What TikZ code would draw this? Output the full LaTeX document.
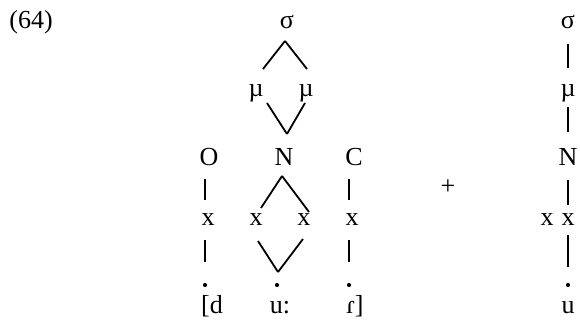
\documentclass[tikz,border=0pt]{standalone}
\usepackage{fontspec}
\setmainfont{Liberation Serif}
\begin{document}
\begin{tikzpicture}[x=0.5pt,y=-0.5pt,font=\fontsize{13}{15}\selectfont]
    \tikzstyle{seg}=[inner sep=0pt]
    \tikzstyle{tie}=[line width=0.9pt]
    \tikzstyle{bar}=[line width=0.6pt]
    \tikzstyle{stem}=[line width=1.2pt]
    \tikzstyle{spot}=[circle,fill=black,inner sep=0pt,minimum size=2.1pt]
    \useasboundingbox (0,0) rectangle (580,321);
    \node[seg] (num) at (31,22) {(64)};
    % left syllable
    \node[seg] (sigma) at (287,22) {σ};
    \node[seg] (mu-1) at (256,93) {µ};
    \node[seg] (mu-2) at (306,93) {µ};
    \foreach \name/\x in {O/209, N/284, C/354}
        \node[seg] (\name) at (\x,157) {\name};
    \foreach \name/\x in {xO/208, xN-1/256, xN-2/304, xC/352}
        \node[seg] (\name) at (\x,220) {x};
    \foreach \name/\x in {dO/205, dN/277, dC/349}
        \node[spot] (\name) at (\x,285) {};
    \node[seg,anchor=base] (seg-d) at (212,314) {[d};
    \node[seg,anchor=base] (seg-u) at (280,314) {u:};
    \node[seg,anchor=base] (seg-r) at (355,314) {ɾ]};

    \draw[tie] ([shift={(-2,19)}]sigma.center) -- ([shift={(7,-24)}]mu-1.center);
    \draw[tie] ([shift={(-2,19)}]sigma.center) -- ([shift={(1,-24)}]mu-2.center);
    \draw[tie] ([shift={(11,10)}]mu-1.center) -- ([shift={(3,-23)}]N.center);
    \draw[tie] ([shift={(-1,10)}]mu-2.center) -- ([shift={(3,-23)}]N.center);
    \draw[tie] ([shift={(-2,19)}]N.center) -- ([shift={(5,-12)}]xN-1.center);
    \draw[tie] ([shift={(-2,19)}]N.center) -- ([shift={(5,-8)}]xN-2.center);
    \draw[tie] ([shift={(2,21)}]xN-1.center) -- ([shift={(1,-13)}]dN.center);
    \draw[tie] ([shift={(-1,19)}]xN-2.center) -- ([shift={(1,-13)}]dN.center);

    \foreach \from/\to/\dx in {O/xO/-4, C/xC/-5}
        \draw[bar] ([shift={(\dx,22)}]\from.center) -- ([shift={(-3,-20)}]\to.center);
    \foreach \from/\to in {xO/dO, xC/dC}
        \draw[bar] ([shift={(-3,20)}]\from.center) -- ([shift={(0,-23)}]\to.center);

    \node[seg] (plus) at (448,187) {+};

    % right syllable
    \node[seg] (sigma-r) at (568,22) {σ};
    \node[seg] (mu-r) at (568,93) {µ};
    \node[seg] (N-r) at (568,157) {N};
    \node[seg] (x-r1) at (547,220) {x};
    \node[seg] (x-r2) at (568,220) {x};
    \node[spot] (d-r) at (568,285) {};
    \node[seg,anchor=base] (seg-u2) at (568,314) {u};

    \draw[stem] ([yshift=-11pt]sigma-r.center) -- ([yshift=12.5pt]mu-r.center);
    \draw[stem] ([yshift=-7pt]mu-r.center) -- ([yshift=12.5pt]N-r.center);
    \draw[stem] ([yshift=-11.5pt]N-r.center) -- ([yshift=7.5pt]x-r2.center);
    \draw[stem] ([yshift=-7.5pt]x-r2.center) -- ([yshift=9pt]d-r.center);
\end{tikzpicture}
\end{document}
